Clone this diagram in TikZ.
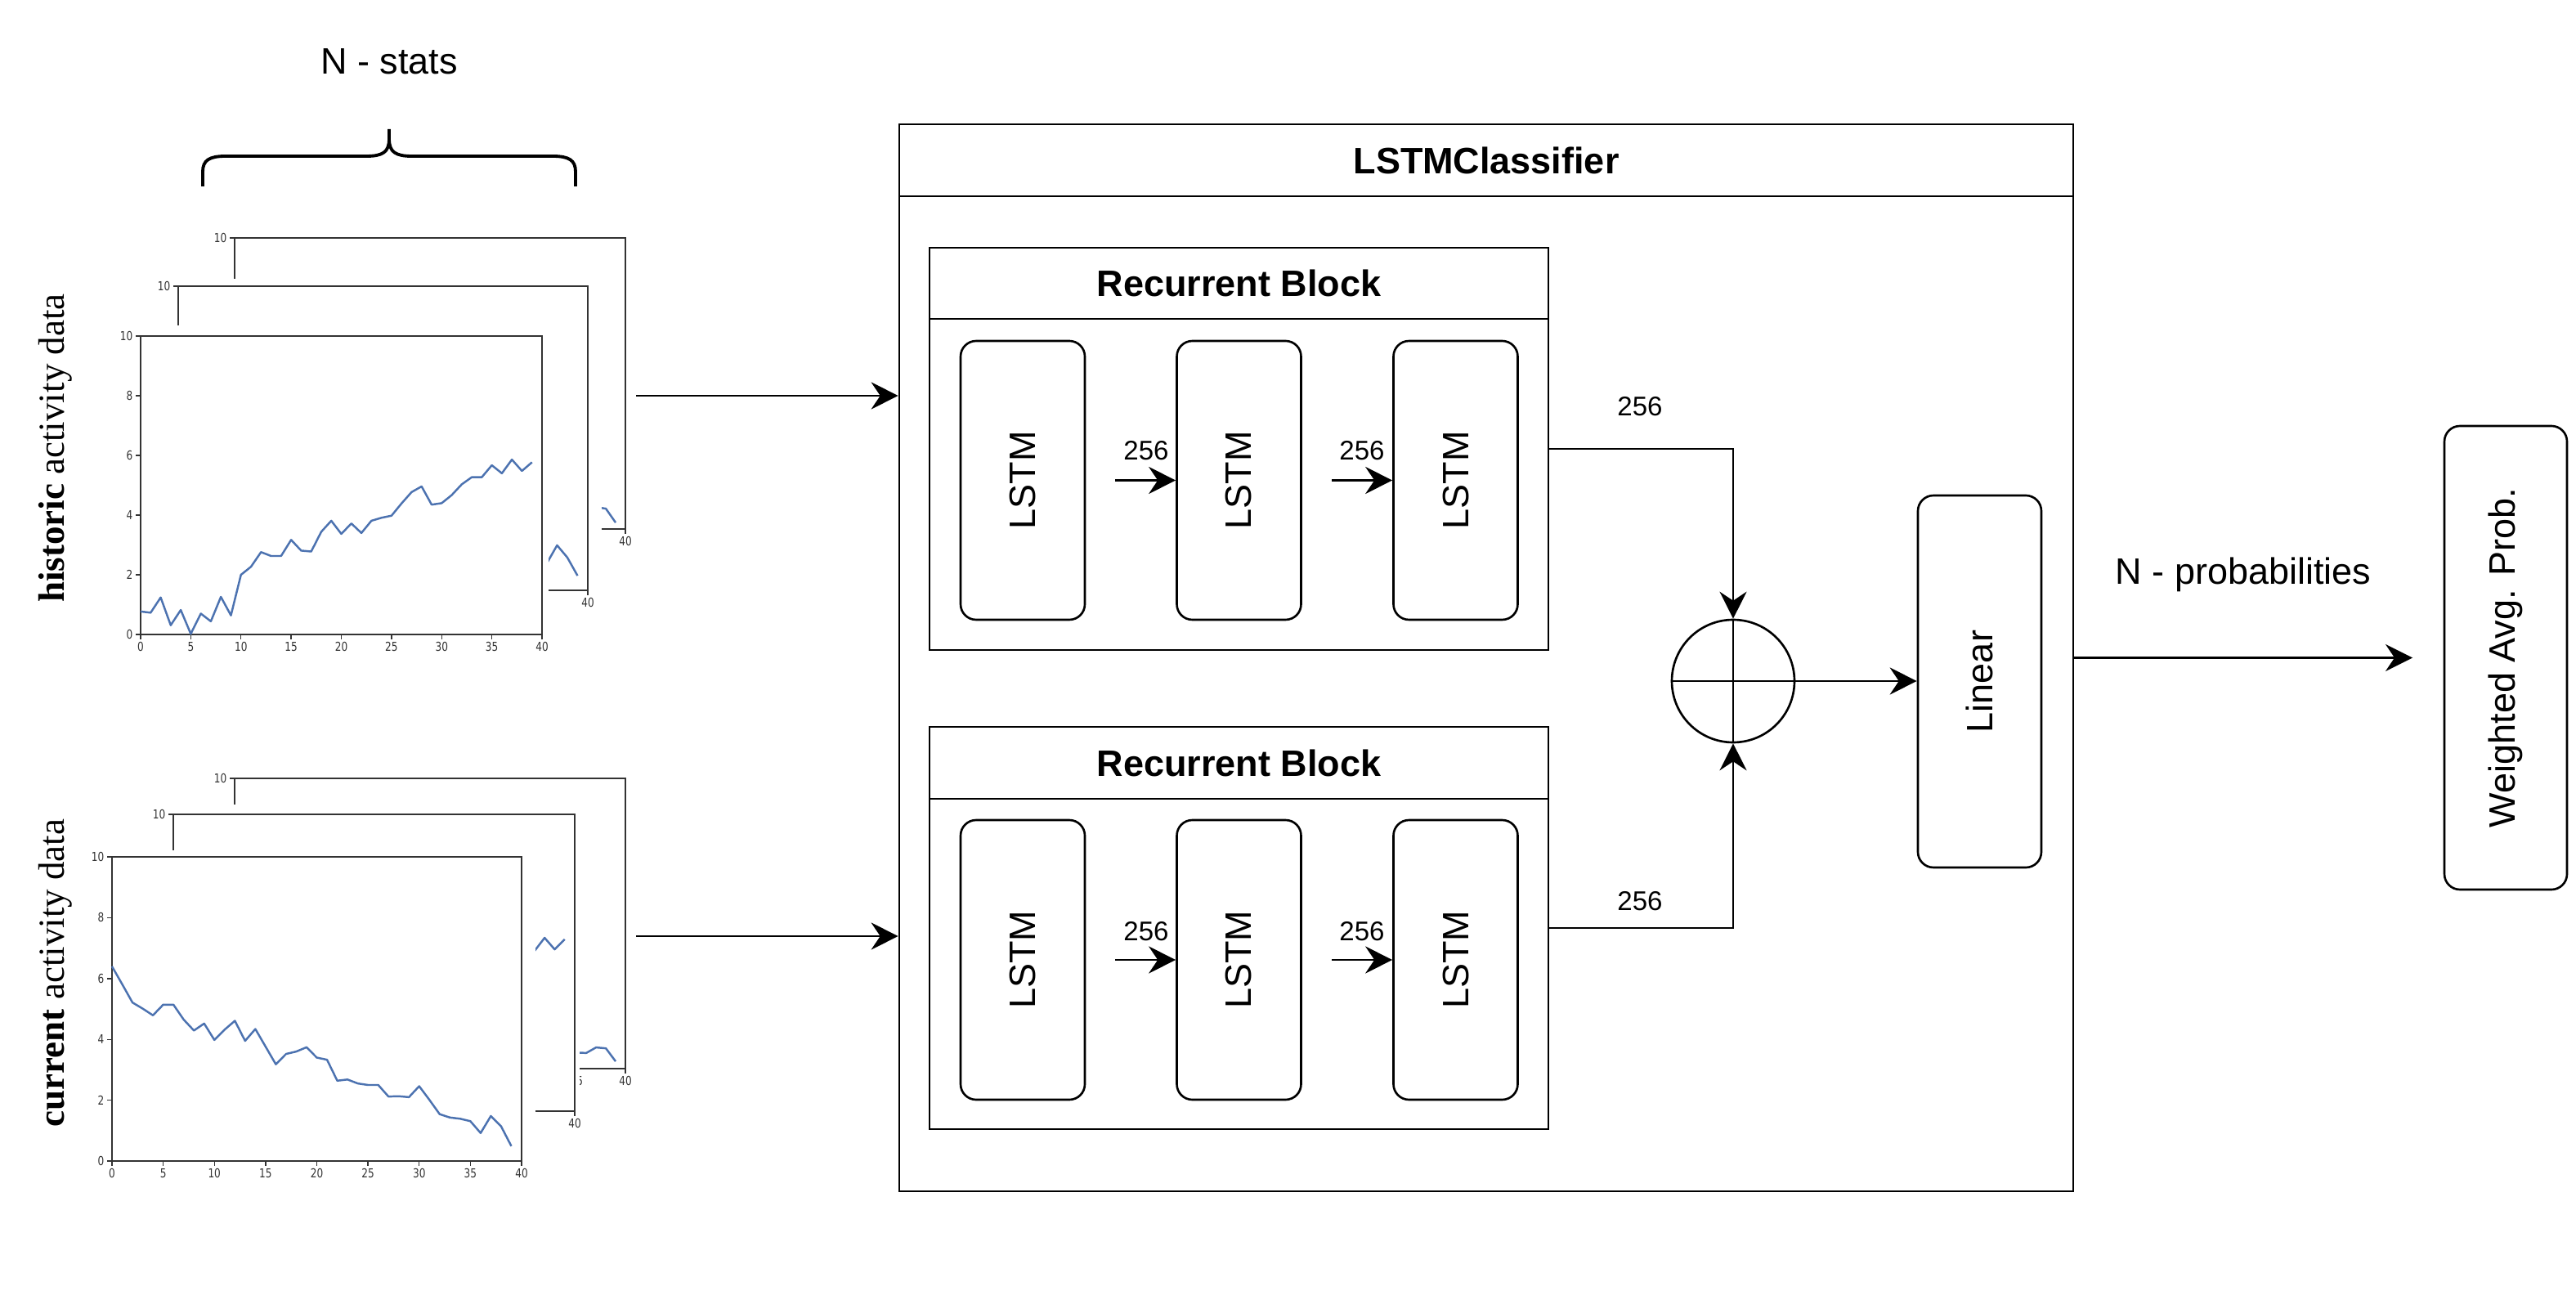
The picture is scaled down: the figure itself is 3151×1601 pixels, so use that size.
\documentclass[tikz,border=0pt]{standalone}
\usepackage{fontspec}
\setmainfont{Liberation Sans}
\newfontfamily\timesfont{Liberation Serif}
\newfontfamily\tickfont{DejaVu Sans}
\usetikzlibrary{arrows.meta,positioning}

\tikzset{every picture/.style={line width=0.75pt}}
\tikzset{
  frame/.style={draw, inner sep=0pt},
  headbox/.style={draw, inner sep=0pt, anchor=north, font=\bfseries\fontsize{12.8}{15}\selectfont},
  layer/.style={draw, rounded corners=1.9mm, inner sep=0pt, minimum width=15.2mm, font=\fontsize{12.8}{15}\selectfont},
  conn/.style={-{Stealth[length=3.3mm,width=3.3mm,inset=1.1mm]}},
  dimlbl/.style={anchor=base, inner sep=0pt, font=\fontsize{9.4}{11}\selectfont},
  plainlbl/.style={anchor=base, inner sep=0pt, font=\fontsize{12.8}{15}\selectfont},
  sidelbl/.style={rotate=90, anchor=base, inner sep=0pt, font=\timesfont\fontsize{12.8}{15}\selectfont},
  spine/.style={draw=black!80, line width=0.4pt},
  ticklbl/.style={inner sep=0.3mm, text=black!80, font=\tickfont\fontsize{4.3}{5}\selectfont},
  series/.style={draw={rgb,255:red,76;green,114;blue,176}, line width=0.7pt, line join=round}
}

% one chart: left, top, right, bottom, top margin, right margin
\newcommand{\chartframe}[6]{%
  \fill[white] ({#1-45},{#2-#5}) rectangle ({#3+#6},{#4+40});
  \draw[spine] (#1,#2) rectangle (#3,#4);
  \foreach \tv in {0,5,...,40}
    \draw[spine] ({#1+(#3-#1)/40*\tv},#4) -- ++(0,6) node[ticklbl,below] {\scalebox{0.8}[1]{\tv}};
  \foreach \tv in {0,2,...,10}
    \draw[spine] (#1,{#4-(#4-#2)/10*\tv}) -- ++(-6,0) node[ticklbl,left] {\scalebox{0.8}[1]{\tv}};
}
% data of one chart: left, top, right, bottom, points
\newcommand{\chartline}[5]{%
  \begin{scope}[shift={(#1,#4)},xscale={(#3-#1)/40},yscale={-(#4-#2)/10}]
    \draw[series] plot coordinates {#5};
  \end{scope}
}

\begin{document}
\begin{tikzpicture}[x=0.1mm,y=0.1mm,yscale=-1,xscale=1]
\path[use as bounding box, fill=white] (0,0) rectangle (3151,1601);

%Charts: historic activity data
\chartframe{287}{291}{765}{647}{10}{10}
\chartline{287}{291}{765}{647}{(36,0.9) (37,0.75) (38,0.70) (39,0.22)}
\chartframe{218}{350}{719}{722}{9}{17}
\chartline{218}{350}{719}{722}{(35,1.0) (36,0.89) (37,1.48) (38,1.08) (39,0.48)}
\chartframe{172}{411}{663}{776}{13}{8}
\chartline{172}{411}{663}{776}{(0,0.77) (1,0.73) (2,1.24) (3,0.31) (4,0.82) (5,0.02) (6,0.70) (7,0.44) (8,1.26) (9,0.64) (10,2.0) (11,2.27) (12,2.76) (13,2.63) (14,2.63) (15,3.17) (16,2.81) (17,2.78) (18,3.44) (19,3.81) (20,3.37) (21,3.72) (22,3.40) (23,3.81) (24,3.91) (25,3.98) (26,4.39) (27,4.77) (28,4.96) (29,4.35) (30,4.40) (31,4.67) (32,5.03) (33,5.27) (34,5.27) (35,5.67) (36,5.40) (37,5.86) (38,5.48) (39,5.77)}

%Charts: current activity data
\chartframe{287}{952}{765}{1307}{10}{10}
\chartline{287}{952}{765}{1307}{(34,0.5) (35,0.55) (36,0.54) (37,0.73) (38,0.70) (39,0.25)}
\chartframe{212}{996}{703}{1359}{12}{6}
\chartline{212}{996}{703}{1359}{(35,5.0) (36,5.4) (37,5.84) (38,5.45) (39,5.79)}
\chartframe{137}{1048}{638}{1420}{8}{17}
\chartline{137}{1048}{638}{1420}{(0,6.40) (1,5.81) (2,5.21) (3,5.01) (4,4.79) (5,5.14) (6,5.14) (7,4.65) (8,4.29) (9,4.52) (10,3.98) (11,4.32) (12,4.61) (13,3.95) (14,4.34) (15,3.76) (16,3.18) (17,3.52) (18,3.60) (19,3.74) (20,3.40) (21,3.33) (22,2.64) (23,2.68) (24,2.55) (25,2.50) (26,2.50) (27,2.12) (28,2.13) (29,2.10) (30,2.46) (31,2.01) (32,1.54) (33,1.43) (34,1.39) (35,1.31) (36,0.92) (37,1.48) (38,1.14) (39,0.49)}

% Text Node
\node[sidelbl] (histlbl) at (79,548) {\textbf{historic} activity data};
% Text Node
\node[sidelbl] (currlbl) at (79,1190) {\textbf{current} activity data};

%Brace
\draw[line width=1.1pt] (248,228) -- (248,210) .. controls (248,196) and (256,191) .. (276,191) -- (448,191) .. controls (468,191) and (476,186) .. (476,170) -- (476,158);
\draw[line width=1.1pt] (704,228) -- (704,210) .. controls (704,196) and (696,191) .. (676,191) -- (504,191) .. controls (484,191) and (476,186) .. (476,170);
% Text Node
\node[plainlbl] (nstats) at (476,91) {N - stats};

%LSTMClassifier
\node[frame, minimum width=143.6mm, minimum height=130.5mm] (clf) at (1818,804.5) {};
\node[headbox, minimum width=143.6mm, minimum height=8.8mm] (clfhead) at (clf.north) {LSTMClassifier};

%Recurrent Block 1
\node[frame, minimum width=75.7mm, minimum height=49.2mm] (rb1) at (1515.5,549) {};
\node[headbox, minimum width=75.7mm, minimum height=8.7mm] (rb1head) at (rb1.north) {Recurrent Block};
\node[layer, minimum height=34.1mm] (l11) at (1251,587.5) {\rotatebox{90}{LSTM}};
\node[layer, minimum height=34.1mm] (l12) at (1515.5,587.5) {\rotatebox{90}{LSTM}};
\node[layer, minimum height=34.1mm] (l13) at (1780.5,587.5) {\rotatebox{90}{LSTM}};

%Recurrent Block 2
\node[frame, minimum width=75.7mm, minimum height=49.2mm] (rb2) at (1515.5,1135) {};
\node[headbox, minimum width=75.7mm, minimum height=8.8mm] (rb2head) at (rb2.north) {Recurrent Block};
\node[layer, minimum height=34.2mm] (l21) at (1251,1174) {\rotatebox{90}{LSTM}};
\node[layer, minimum height=34.2mm] (l22) at (1515.5,1174) {\rotatebox{90}{LSTM}};
\node[layer, minimum height=34.2mm] (l23) at (1780.5,1174) {\rotatebox{90}{LSTM}};

%Sum, Linear, Weighted
\node[circle, draw, minimum size=15mm, inner sep=0pt] (sum) at (2120,833) {};
\draw (sum.north) -- (sum.south);
\draw (sum.west) -- (sum.east);
\node[layer, minimum width=15.1mm, minimum height=45.5mm] (lin) at (2421.5,833.5) {\rotatebox{90}{Linear}};
\node[layer, minimum width=15mm, minimum height=56.7mm] (wavg) at (3065,804.5) {\rotatebox{90}{Weighted Avg. Prob.}};

%Free ends
\coordinate (hsrc) at (778,484);
\coordinate (csrc) at (778,1145);
\coordinate (in12) at (1364,587.5);
\coordinate (in13) at (1629,587.5);
\coordinate (in22) at (1364,1174);
\coordinate (in23) at (1629,1174);
\coordinate (pout) at (2951,804.5);

%Straight Lines
\draw[conn] (hsrc) -- (hsrc -| clf.west);
\draw[conn] (csrc) -- (csrc -| clf.west);
\draw[conn] (in12) -- (l12);
\draw[conn] (in13) -- (l13);
\draw[conn] (in22) -- (l22);
\draw[conn] (in23) -- (l23);
\draw[conn] (rb1.east) -| (sum.north);
\draw[conn] (rb2.east) -| (sum.south);
\draw[conn] (sum.east) -- (lin.west |- sum.east);
\draw[conn] (clf.east) -- (pout);

% Text Node
\node[dimlbl] at (1402,563) {256};
\node[dimlbl] at (1666,563) {256};
\node[dimlbl] at (1402,1150) {256};
\node[dimlbl] at (1666,1150) {256};
\node[dimlbl] at (2006,509) {256};
\node[dimlbl] at (2006,1113) {256};
% Text Node
\node[plainlbl] (nprob) at (2744,715) {N - probabilities};
\end{tikzpicture}
\end{document}
